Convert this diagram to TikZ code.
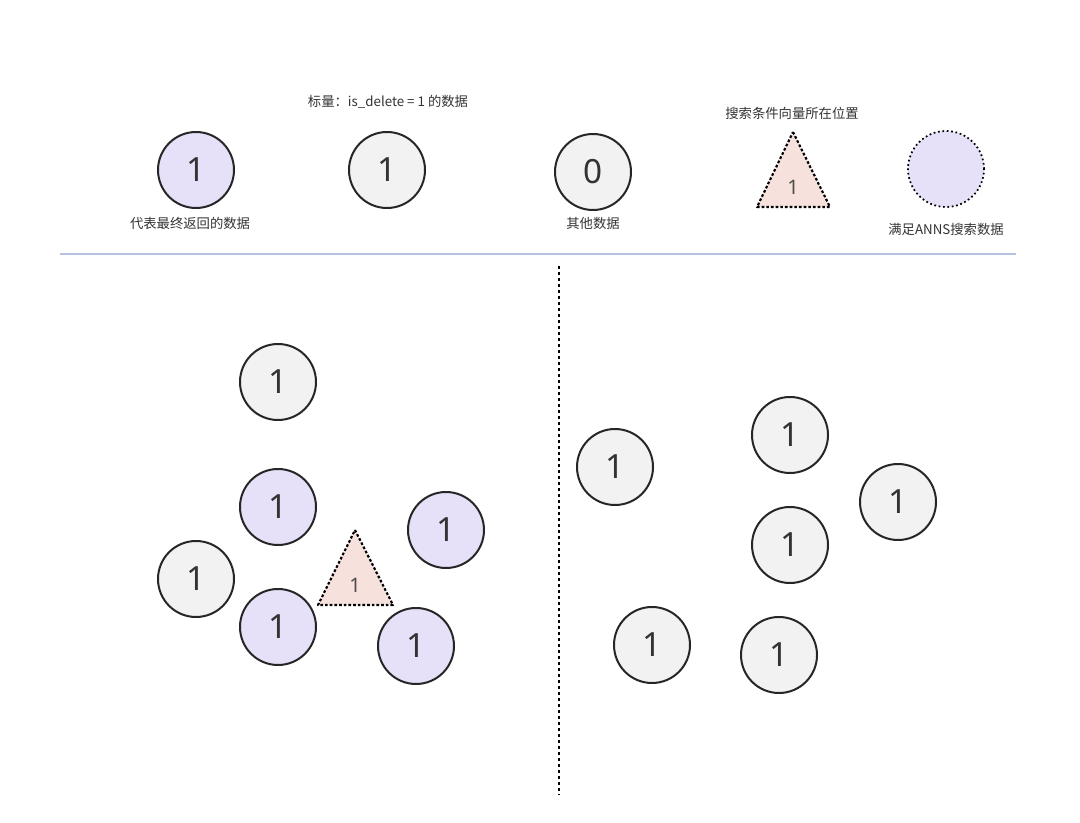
\documentclass[tikz,border=0pt]{standalone}
\usepackage{fontspec}
\setmainfont{Noto Sans}
\newfontfamily\cjk{Noto Sans CJK SC}
\definecolor{lav}{RGB}{230,224,248}
\definecolor{pinkf}{RGB}{247,225,221}
\begin{document}
\begin{tikzpicture}[x=0.75pt,y=-0.75pt,
  dot/.style={circle,draw=black!85,line width=1.5pt,minimum size=57pt,inner sep=0pt,font=\fontsize{25}{25}\selectfont,text=black!80},
  pur/.style={dot,fill=lav},
  gry/.style={dot,fill=black!5},
  lbl/.style={font=\cjk\fontsize{10}{10}\selectfont,text=black!80},
  tri/.style={draw=black,fill=pinkf,line width=1.6pt,dash pattern=on 2pt off 1.5pt,line join=round}]
\useasboundingbox (0,0) rectangle (1080,823);
% legend
\node[pur] (l1) at (196,170) {1};
\node[gry] (l2) at (387,170) {1};
\node[gry] (l3) at (593,172) {0};
\draw[tri] (793,132) -- (830,207) -- (757,207) -- cycle;
\node[font=\fontsize{15}{15}\selectfont,text=black!70] (l4) at (793,187) {1};
\node[circle,draw=black,line width=1.3pt,dotted,fill=lav,minimum size=57pt,inner sep=0pt] (l5) at (946,169) {};
\node[lbl] (t1) at (190,223) {代表最终返回的数据};
\node[lbl] (t2) at (388,102) {标量：is\_delete = 1 的数据};
\node[lbl] (t3) at (593,223) {其他数据};
\node[lbl] (t4) at (792,113) {搜索条件向量所在位置};
\node[lbl] (t5) at (946,229) {满足ANNS搜索数据};
\coordinate (h1) at (60,254); \coordinate (h2) at (1016,254);
\draw[line width=1.5pt,color={rgb,255:red,184;green,192;blue,228}] (h1) -- (h2);
\coordinate (v1) at (559,266); \coordinate (v2) at (559,795);
\draw[line width=1.5pt,dash pattern=on 2pt off 2.5pt] (v1) -- (v2);
% left
\node[gry] (a1) at (278,382) {1};
\node[pur] (a2) at (278,507) {1};
\node[pur] (a3) at (446,530) {1};
\node[gry] (a4) at (196,579) {1};
\node[pur] (a5) at (278,627) {1};
\node[pur] (a6) at (416,646) {1};
\draw[tri] (355,530) -- (393,605) -- (318,605) -- cycle;
\node[font=\fontsize{15}{15}\selectfont,text=black!70] (a7) at (355,585) {1};
% right
\node[gry] (b1) at (615,467) {1};
\node[gry] (b2) at (790,435) {1};
\node[gry] (b3) at (898,502) {1};
\node[gry] (b4) at (790,545) {1};
\node[gry] (b5) at (652,645) {1};
\node[gry] (b6) at (779,655) {1};
\end{tikzpicture}
\end{document}
